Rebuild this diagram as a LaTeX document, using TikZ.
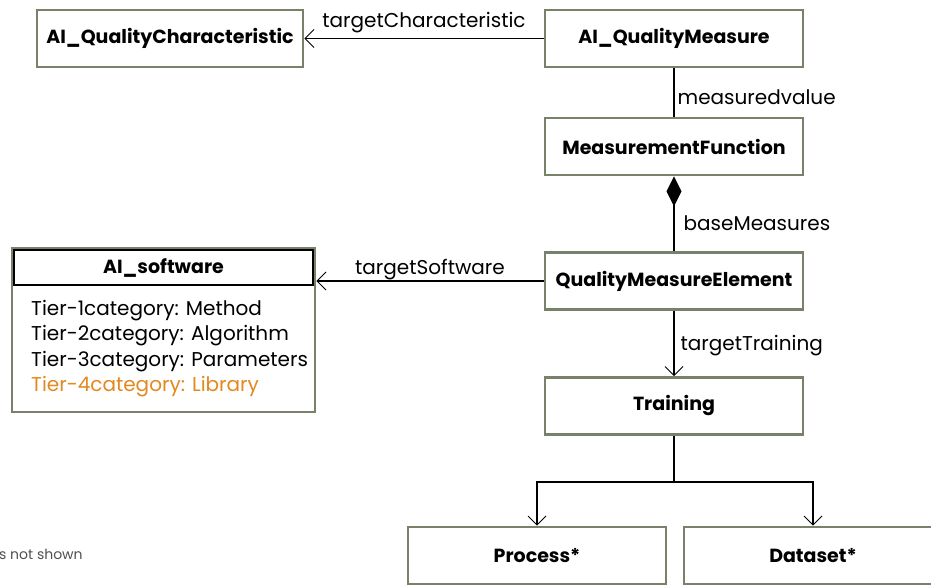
\documentclass[tikz,border=0pt]{standalone}
\usepackage{fontspec}
\setmainfont{Poppins}
\usetikzlibrary{positioning,arrows.meta}

\definecolor{boxgreen}{RGB}{120,130,106}
\definecolor{tierorange}{RGB}{228,136,32}
\definecolor{notegray}{RGB}{80,80,80}

\tikzset{
  umlclass/.style={draw=boxgreen, line width=2.6pt, fill=white,
    minimum width=258pt, minimum height=57pt, inner sep=0pt,
    font=\bfseries\fontsize{19}{22}\selectfont},
  assoc/.style={draw=black, line width=1.3pt},
  openhead/.style={-{Straight Barb[length=9pt,width=18pt,line width=1pt]}},
  rolelbl/.style={font=\fontsize{20}{24}\selectfont, inner sep=3pt}
}

\begin{document}
\begin{tikzpicture}[x=1pt, y=-1pt]

	\clip (0,0) rectangle (931,585);
	\fill[white] (0,0) rectangle (931,585);

	%Classes
	\node[umlclass, minimum width=266pt] (QualChar) at (170,38.5) {AI\_QualityCharacteristic};
	\node[umlclass] (QualMeas) at (674,38.5) {AI\_QualityMeasure};
	\node[umlclass] (MeasFunc) at (674,146.5) {MeasurementFunction};
	\node[umlclass] (QMElem) at (674,281) {QualityMeasureElement};
	\node[umlclass] (Train) at (674,406) {Training};
	\node[umlclass] (Proc) at (537,555.5) {Process*};
	\node[umlclass] (Data) at (813,555.5) {Dataset*};

	%AI software class with its attributes
	\node[draw=boxgreen, line width=2.6pt, minimum width=303pt, minimum height=164pt] (SWFrame) at (163.5,330) {};
	\node[draw=black, line width=1.2pt, minimum width=299pt, minimum height=35pt, inner sep=0pt,
	      font=\bfseries\fontsize{19}{22}\selectfont] (SWHead) at (163.5,267.5) {AI\_software};
	\node[anchor=north west, align=left, inner sep=0pt,
	      font=\fontsize{20}{25.3}\selectfont] (SWAttrs) at (31,300) {%
	  Tier-1category: Method\\
	  Tier-2category: Algorithm\\
	  Tier-3category: Parameters\\
	  \textcolor{tierorange}{Tier-4category: Library}};

	%Associations
	\draw[assoc, openhead] (QualMeas) -- (QualChar)
	  node[rolelbl, midway, above=2pt] {targetCharacteristic};
	\draw[assoc] (QualMeas) -- (MeasFunc)
	  node[rolelbl, pos=0.6, right=0pt] {measuredvalue};
	\draw[assoc, {Diamond[length=30pt,width=15pt]}-] (MeasFunc) -- (QMElem)
	  node[rolelbl, pos=0.62, right=6pt] {baseMeasures};
	\draw[assoc, openhead] (QMElem.west) -- (QMElem.west -| SWFrame.east)
	  node[rolelbl, midway, above=-3pt] {targetSoftware};
	\draw[assoc, openhead] (QMElem) -- (Train)
	  node[rolelbl, pos=0.53, right=3pt] {targetTraining};

	%Split into process and dataset
	\coordinate (Fork) at (674,482);
	\draw[assoc] (Train) -- (Fork);
	\draw[assoc, openhead] (Fork) -| (Proc);
	\draw[assoc, openhead] (Fork) -| (Data);

	%Cut-off note
	\node[anchor=west, inner sep=0pt, text=notegray, font=\fontsize{14}{16}\selectfont] (Note) at (-1,554) {s not shown};

\end{tikzpicture}
\end{document}
